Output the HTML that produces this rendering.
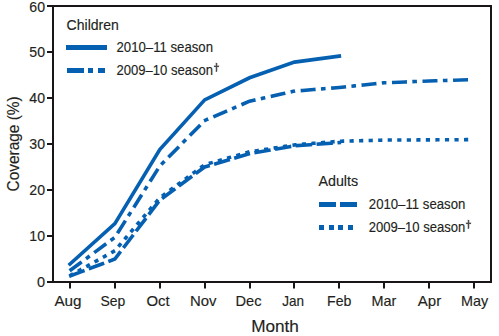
<!DOCTYPE html>
<html><head><meta charset="utf-8"><style>
html,body{margin:0;padding:0;background:#fff;}
body{width:499px;height:336px;overflow:hidden;font-family:"Liberation Sans", sans-serif;}
svg{display:block;}
</style></head><body>
<svg width="499" height="336" viewBox="0 0 499 336">
<rect width="499" height="336" fill="#fff"/>
<g fill="#1a1517">
<rect x="52" y="5" width="2" height="278"/>
<rect x="490" y="5" width="2" height="278"/>
<rect x="52" y="5" width="440" height="2"/>
<rect x="52" y="281" width="440" height="2"/>
<rect x="47" y="281" width="6" height="2"/>
<rect x="47" y="235" width="6" height="2"/>
<rect x="47" y="189" width="6" height="2"/>
<rect x="47" y="143" width="6" height="2"/>
<rect x="47" y="97" width="6" height="2"/>
<rect x="47" y="51" width="6" height="2"/>
<rect x="47" y="5" width="6" height="2"/>
<rect x="69" y="281" width="2" height="7.5"/>
<rect x="114" y="281" width="2" height="7.5"/>
<rect x="159" y="281" width="2" height="7.5"/>
<rect x="204" y="281" width="2" height="7.5"/>
<rect x="249" y="281" width="2" height="7.5"/>
<rect x="293" y="281" width="2" height="7.5"/>
<rect x="338" y="281" width="2" height="7.5"/>
<rect x="383" y="281" width="2" height="7.5"/>
<rect x="428" y="281" width="2" height="7.5"/>
<rect x="473" y="281" width="2" height="7.5"/>
</g>
<polyline points="70.00,275.56 114.89,250.72 159.78,197.82 204.67,164.70 249.56,151.82 294.45,144.92 339.34,141.24 384.23,140.09 429.12,139.86 474.01,139.63" fill="none" stroke="#0660b1" stroke-width="3.6" stroke-linejoin="miter" stroke-dasharray="0.6 8.94" stroke-dashoffset="-1.26" stroke-linecap="square"/>
<polyline points="70.00,276.02 114.89,259.00 159.78,200.12 204.67,167.00 249.56,153.66 294.45,145.84 339.34,142.62" fill="none" stroke="#0660b1" stroke-width="3.6" stroke-linejoin="miter" stroke-dasharray="12.9 8.05" stroke-dashoffset="-0.9" stroke-linecap="square"/>
<polyline points="70.00,270.50 114.89,237.38 159.78,166.08 204.67,120.54 249.56,101.22 294.45,91.10 339.34,87.42 384.23,82.82 429.12,80.98 474.01,79.60" fill="none" stroke="#0660b1" stroke-width="3.6" stroke-linejoin="miter" stroke-dasharray="11.4 9.0 1.0 9.16" stroke-dashoffset="-1.3" stroke-linecap="square"/>
<polyline points="70.00,264.06 114.89,223.58 159.78,149.52 204.67,99.84 249.56,77.76 294.45,62.12 339.34,56.14" fill="none" stroke="#0660b1" stroke-width="3.6" stroke-linejoin="miter" stroke-linecap="square"/>
<g fill="#0660b1">
<rect x="66" y="45" width="41" height="5"/>
<rect x="67" y="68" width="17" height="5"/><rect x="88" y="68" width="5" height="5"/><rect x="98" y="68" width="7" height="5"/>
<rect x="319" y="202" width="17" height="5"/><rect x="340" y="202" width="17" height="5"/>
<rect x="319" y="225" width="5" height="5"/>
<rect x="329" y="225" width="5" height="5"/>
<rect x="338" y="225" width="5" height="5"/>
<rect x="348" y="225" width="5" height="5"/>
</g>
<g font-family="Liberation Sans, sans-serif" fill="#231f20" stroke="#231f20" stroke-width="0.15">
<text x="66.6" y="30" font-size="15.2" text-anchor="start" textLength="52.2" lengthAdjust="spacingAndGlyphs">Children</text>
<text x="116.5" y="52.3" font-size="15.2" text-anchor="start" textLength="96.5" lengthAdjust="spacingAndGlyphs">2010–11 season</text>
<text x="116.5" y="75.4" font-size="15.2" text-anchor="start" textLength="96.5" lengthAdjust="spacingAndGlyphs">2009–10 season</text>
<text x="318.4" y="185.6" font-size="15.2" text-anchor="start" textLength="39.8" lengthAdjust="spacingAndGlyphs">Adults</text>
<text x="368.8" y="209.2" font-size="15.2" text-anchor="start" textLength="96.5" lengthAdjust="spacingAndGlyphs">2010–11 season</text>
<text x="368.8" y="231.6" font-size="15.2" text-anchor="start" textLength="96.5" lengthAdjust="spacingAndGlyphs">2009–10 season</text>
<g opacity="0.8"><rect x="215.9" y="63" width="1.2" height="8.8"/><rect x="214" y="65.8" width="5" height="1.2"/></g>
<g opacity="0.8"><rect x="467.9" y="220" width="1.2" height="8.8"/><rect x="466" y="222.8" width="5" height="1.2"/></g>
<text x="45" y="286.9" font-size="14.5" text-anchor="end">0</text>
<text x="45" y="240.9" font-size="14.5" text-anchor="end" textLength="15.7" lengthAdjust="spacingAndGlyphs">10</text>
<text x="45" y="194.9" font-size="14.5" text-anchor="end" textLength="15.7" lengthAdjust="spacingAndGlyphs">20</text>
<text x="45" y="148.9" font-size="14.5" text-anchor="end" textLength="15.7" lengthAdjust="spacingAndGlyphs">30</text>
<text x="45" y="102.9" font-size="14.5" text-anchor="end" textLength="15.7" lengthAdjust="spacingAndGlyphs">40</text>
<text x="45" y="56.9" font-size="14.5" text-anchor="end" textLength="15.7" lengthAdjust="spacingAndGlyphs">50</text>
<text x="45" y="11.8" font-size="14.5" text-anchor="end" textLength="15.7" lengthAdjust="spacingAndGlyphs">60</text>
<text x="68.00" y="305.8" font-size="15" text-anchor="middle" textLength="27.2" lengthAdjust="spacingAndGlyphs">Aug</text>
<text x="112.90" y="305.8" font-size="15" text-anchor="middle" textLength="24.8" lengthAdjust="spacingAndGlyphs">Sep</text>
<text x="158.05" y="305.8" font-size="15" text-anchor="middle" textLength="23.2" lengthAdjust="spacingAndGlyphs">Oct</text>
<text x="203.30" y="305.8" font-size="15" text-anchor="middle" textLength="26.5" lengthAdjust="spacingAndGlyphs">Nov</text>
<text x="248.50" y="305.8" font-size="15" text-anchor="middle" textLength="26.0" lengthAdjust="spacingAndGlyphs">Dec</text>
<text x="293.25" y="305.8" font-size="15" text-anchor="middle" textLength="21.8" lengthAdjust="spacingAndGlyphs">Jan</text>
<text x="339.20" y="305.8" font-size="15" text-anchor="middle" textLength="24.4" lengthAdjust="spacingAndGlyphs">Feb</text>
<text x="384.00" y="305.8" font-size="15" text-anchor="middle" textLength="24.8" lengthAdjust="spacingAndGlyphs">Mar</text>
<text x="429.50" y="305.8" font-size="15" text-anchor="middle" textLength="23.4" lengthAdjust="spacingAndGlyphs">Apr</text>
<text x="474.50" y="305.8" font-size="15" text-anchor="middle" textLength="27.2" lengthAdjust="spacingAndGlyphs">May</text>
<text x="275.05" y="331.7" font-size="17" text-anchor="middle" textLength="47.8" lengthAdjust="spacingAndGlyphs">Month</text>
<text transform="translate(19,144.4) rotate(-90)" x="-47" y="0" font-size="16.5" textLength="95" lengthAdjust="spacingAndGlyphs">Coverage (%)</text>
</g>
</svg>
</body></html>
